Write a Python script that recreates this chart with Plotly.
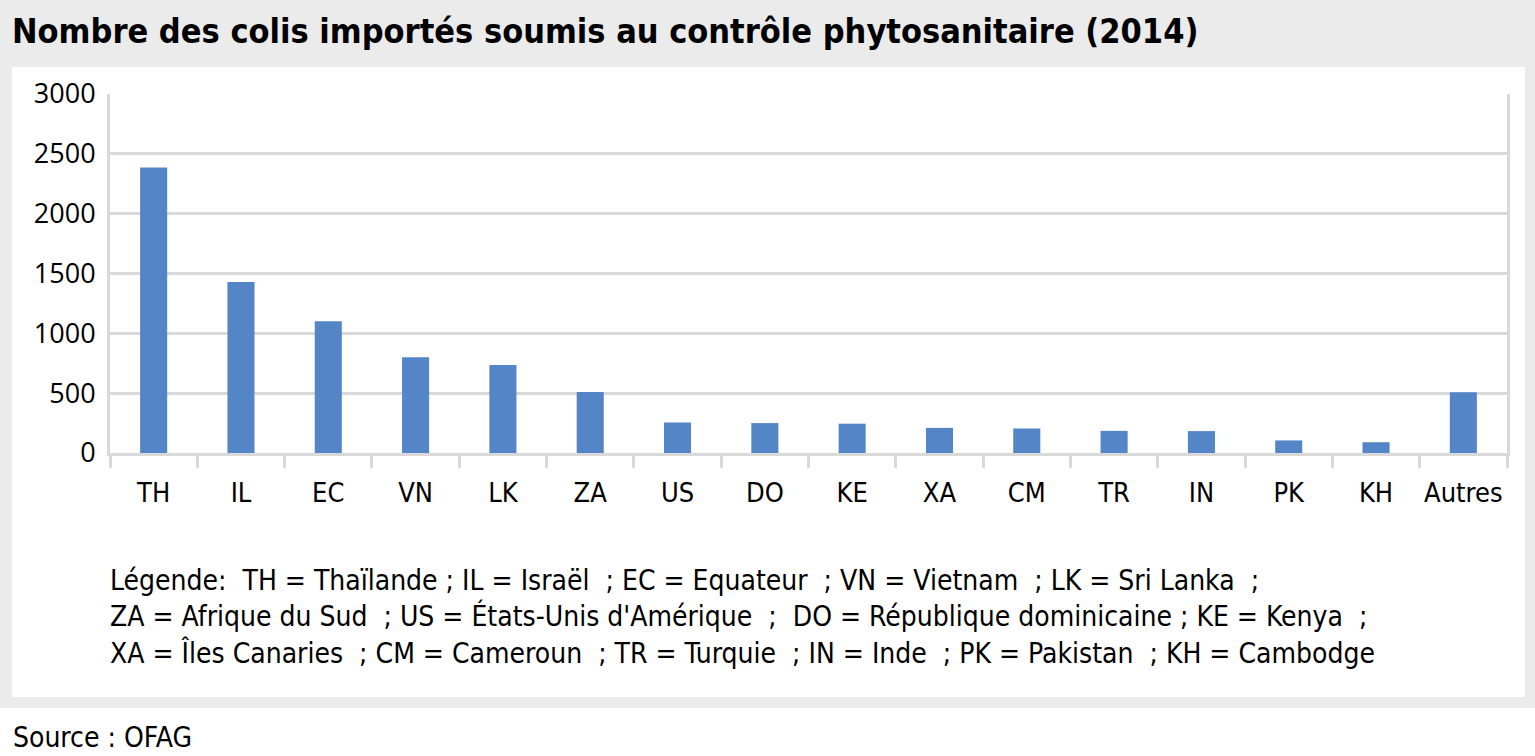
import plotly.graph_objects as go

# ---- data ----
codes = ["TH", "IL", "EC", "VN", "LK", "ZA", "US", "DO", "KE", "XA", "CM", "TR", "IN", "PK", "KH", "Autres"]
colis = [2385, 1430, 1100, 800, 735, 510, 255, 250, 245, 210, 205, 185, 183, 105, 90, 508]
y_ticks = [0, 500, 1000, 1500, 2000, 2500, 3000]

title_text = "Nombre des colis importés soumis au contrôle phytosanitaire (2014)"
legend_lines = [
    "Légende:\u00a0 TH = Thaïlande ; IL = Israël\u00a0 ; EC = Equateur\u00a0 ; VN = Vietnam\u00a0 ; LK = Sri Lanka\u00a0 ;",
    "ZA = Afrique du Sud\u00a0 ; US = États-Unis d'Amérique\u00a0 ;\u00a0 DO = République dominicaine ; KE = Kenya\u00a0 ;",
    "XA = Îles Canaries\u00a0 ; CM = Cameroun\u00a0 ; TR = Turquie\u00a0 ; IN = Inde\u00a0 ; PK = Pakistan\u00a0 ; KH = Cambodge",
]
source_text = "Source : OFAG"

# ---- layout geometry ----
W, H = 1535, 756
ml, mr, mt, mb = 110, 28, 94, 303
pw, ph = W - ml - mr, H - mt - mb


def px(x):
    return (x - ml) / pw


def py(y):
    return 1 - (y - mt) / ph


COND = "DejaVu Sans Condensed, Liberation Sans Narrow, sans-serif"
GRID = "#d9d9d9"
BAR = "#5485c6"

fig = go.Figure(
    go.Bar(x=codes, y=colis, marker=dict(color=BAR, line=dict(width=0)), hoverinfo="skip")
)

fig.update_layout(
    width=W,
    height=H,
    margin=dict(l=ml, r=mr, t=mt, b=mb, pad=0),
    paper_bgcolor="white",
    plot_bgcolor="rgba(0,0,0,0)",
    bargap=0.69,
    showlegend=False,
    hovermode=False,
    shapes=[
        dict(type="rect", xref="paper", yref="paper", x0=px(0), x1=px(W), y0=py(0), y1=py(708),
             fillcolor="#ebebeb", line=dict(width=0), layer="below"),
        dict(type="rect", xref="paper", yref="paper", x0=px(12), x1=px(1525), y0=py(67), y1=py(697),
             fillcolor="white", line=dict(width=0), layer="below"),
    ],
    annotations=[
        dict(text="<b>" + title_text + "</b>", xref="paper", yref="paper", x=px(10), y=py(31),
             xanchor="left", yanchor="middle", showarrow=False,
             font=dict(family=COND, size=34, color="black")),
        dict(text=source_text, xref="paper", yref="paper", x=px(11), y=py(737),
             xanchor="left", yanchor="middle", showarrow=False,
             font=dict(family=COND, size=28, color="black")),
    ]
    + [
        dict(text=line, xref="paper", yref="paper", x=px(108), y=py(yy),
             xanchor="left", yanchor="middle", showarrow=False,
             font=dict(family=COND, size=28, color="black"))
        for line, yy in zip(legend_lines, [580, 616, 653])
    ],
)

fig.update_xaxes(
    type="category",
    showgrid=False,
    showline=True,
    linecolor=GRID,
    linewidth=3,
    ticks="outside",
    tickson="boundaries",
    ticklen=12,
    tickwidth=3,
    tickcolor=GRID,
    tickangle=0,
    ticklabelstandoff=14,
    tickfont=dict(family=COND, size=27, color="black"),
    zeroline=False,
)

fig.update_yaxes(
    range=[0, 3000],
    tickvals=y_ticks,
    showgrid=True,
    gridcolor=GRID,
    gridwidth=3,
    showline=True,
    mirror=True,
    linecolor=GRID,
    linewidth=3,
    ticks="outside",
    ticklen=6,
    tickcolor="rgba(0,0,0,0)",
    tickfont=dict(family="Open Sans, sans-serif", size=27, color="black"),
    zeroline=False,
)

fig.write_html(
    "out.html",
    config={"displayModeBar": False},
    post_script="document.body.style.margin='0';document.body.style.overflow='hidden';",
)
